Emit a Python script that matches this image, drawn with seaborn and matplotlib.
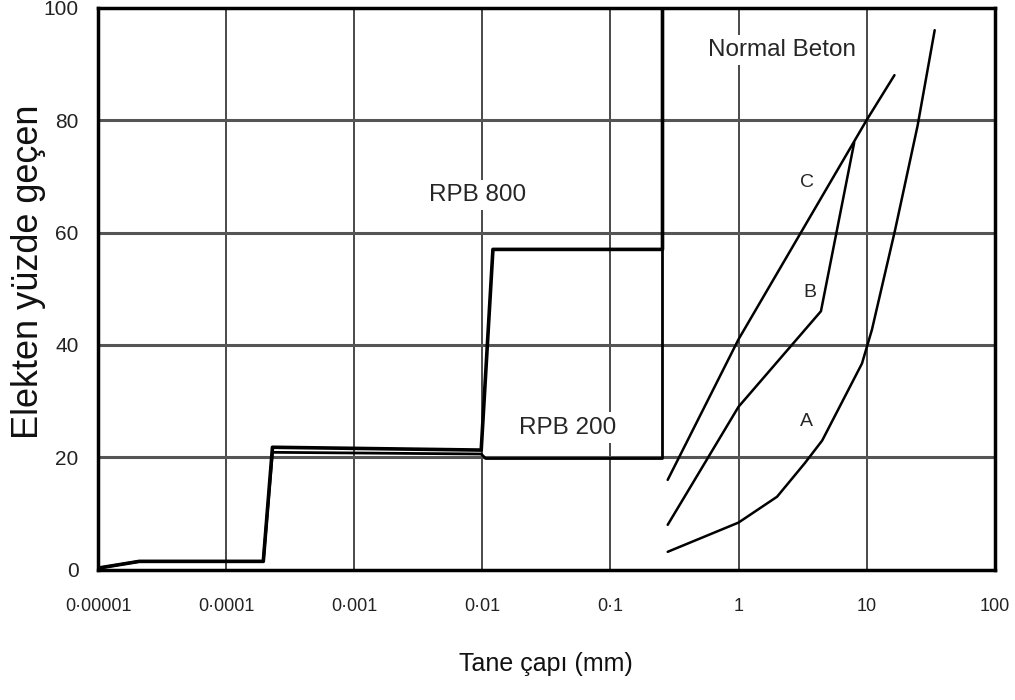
"""
Elek analizi: RPB 200 / RPB 800 ve normal beton granülometri eğrileri
"""
import matplotlib
matplotlib.use('Agg')
import matplotlib.pyplot as plt
import seaborn as sns

# Eksenler
x_ticks = [1e-5, 1e-4, 1e-3, 1e-2, 1e-1, 1, 10, 100]
x_tick_labels = ['0·00001', '0·0001', '0·001', '0·01', '0·1', '1', '10', '100']
y_ticks = [0, 20, 40, 60, 80, 100]

# RPB eğrileri (basamaklı)
rpb800_x = [1e-5, 2.1e-5, 1.95e-4, 2.3e-4, 0.0098, 0.0121, 0.255, 0.255]
rpb800_y = [0.3, 1.5, 1.5, 21.8, 21.3, 57, 57, 100]
rpb200_x = [1e-5, 2.1e-5, 1.95e-4, 2.3e-4, 0.0098, 0.0106, 0.255, 0.255]
rpb200_y = [0.3, 1.5, 1.5, 20.9, 20.6, 19.8, 19.8, 100]

# Normal beton eğrileri
beton_c_x = [0.28, 1.0, 10.0, 16.5]
beton_c_y = [16, 41, 80, 88]
beton_b_x = [0.28, 1.0, 4.4, 8.0]
beton_b_y = [8, 29, 46, 76]
beton_a_x = [0.28, 1.0, 2.0, 3.3, 4.5, 9.2, 11, 16.7, 25, 34]
beton_a_y = [3.2, 8.4, 13, 19, 23, 36.7, 42.7, 60.5, 79, 96]

sns.set_theme(style='white')
plt.rcParams['font.family'] = ['Liberation Sans', 'DejaVu Sans']

fig, ax = plt.subplots(figsize=(10.15, 7.0), dpi=100)
fig.subplots_adjust(left=0.0966, right=0.980, top=0.989, bottom=0.186)

ax.set_xscale('log')

# Izgara
for xv in x_ticks[1:-1]:
    ax.axvline(xv, color='#3a3a3a', lw=1.3, zorder=1)
for yv in y_ticks[1:-1]:
    ax.axhline(yv, color='#555555', lw=2.2, zorder=1)

series = [
    (rpb800_x, rpb800_y, 2.6),
    (rpb200_x, rpb200_y, 2.0),
    (beton_c_x, beton_c_y, 1.8),
    (beton_b_x, beton_b_y, 1.8),
    (beton_a_x, beton_a_y, 1.8),
]
for xs, ys, lw in series:
    sns.lineplot(x=xs, y=ys, ax=ax, color='black', lw=lw,
                 estimator=None, sort=False, zorder=3)

box = dict(facecolor='white', edgecolor='none', pad=3)
ax.text(0.00915, 66.7, 'RPB 800', ha='center', va='center', fontsize=17.5,
        bbox=box, zorder=4)
ax.text(0.0466, 25.3, 'RPB 200', ha='center', va='center', fontsize=17.5,
        bbox=box, zorder=4)
ax.text(2.2, 92.5, 'Normal Beton', ha='center', va='center', fontsize=17.5,
        bbox=box, zorder=4)
for lbl, xv, yv in [('C', 3.45, 68.9), ('B', 3.6, 49.3), ('A', 3.4, 26.3)]:
    ax.text(xv, yv, lbl, ha='center', va='center', fontsize=14, zorder=4)

ax.set_xlim(1e-5, 100)
ax.set_ylim(0, 100)
ax.set_xticks(x_ticks)
ax.set_xticklabels(x_tick_labels, fontsize=13)
ax.set_yticks(y_ticks)
ax.set_yticklabels([str(v) for v in y_ticks], fontsize=15)
ax.minorticks_off()
ax.tick_params(axis='both', length=0, colors='#222222')
ax.tick_params(axis='x', pad=20)
ax.tick_params(axis='y', pad=14)

ax.set_xlabel('Tane çapı (mm)', fontsize=18, labelpad=27, color='#111111')
ax.set_ylabel('Elekten yüzde geçen', fontsize=26, color='#111111')
ax.yaxis.set_label_coords(-0.058, 0.53)

for sp in ax.spines.values():
    sp.set_color('black')
    sp.set_linewidth(2.5)
    sp.set_zorder(5)

plt.savefig('out.png', dpi=100)
